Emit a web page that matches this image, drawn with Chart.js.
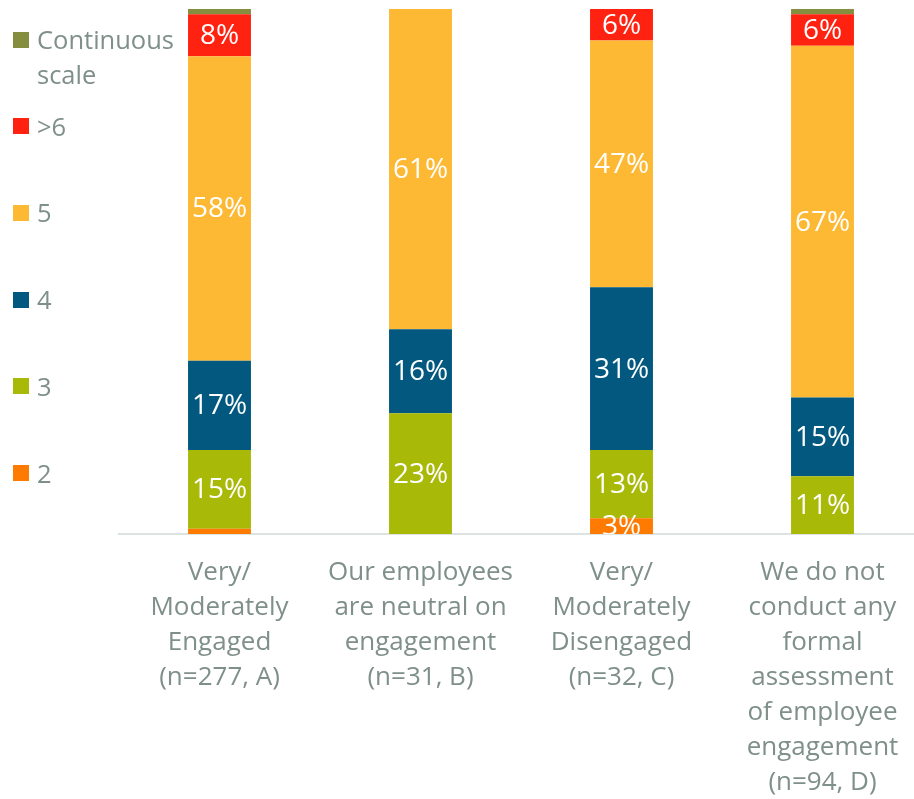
<!DOCTYPE html>
<html>
<head>
<meta charset="utf-8">
<script src="https://cdn.jsdelivr.net/npm/chart.js@4.4.1/dist/chart.umd.min.js"></script>
<style>
  html, body { margin: 0; padding: 0; background: #fff; overflow: hidden; }
  #wrap { position: relative; width: 923px; height: 821px; }
  #legend { position: absolute; left: 0; top: 0; font-family: "Open Sans"; font-size: 25.5px; color: #7f8f8a; }
  .item { position: absolute; left: 13px; width: 175px; line-height: 35px; }
  .item .box { position: absolute; left: 0; top: 9.5px; width: 16px; height: 16px; }
  .item .txt { display: block; margin-left: 24px; width: 150px; }
</style>
</head>
<body>
<div id="wrap">
  <canvas id="scale_chart"></canvas>
  <div id="legend"></div>
</div>
<script>
const categories = [
  ['Very/', 'Moderately', 'Engaged', '(n=277, A)'],
  ['Our employees', 'are neutral on', 'engagement', '(n=31, B)'],
  ['Very/', 'Moderately', 'Disengaged', '(n=32, C)'],
  ['We do not', 'conduct any', 'formal', 'assessment', 'of employee', 'engagement', '(n=94, D)']
];

// stacked from the bottom up
const seriesNames = ['2', '3', '4', '5', '>6', 'Continuous scale'];
const seriesColors = ['#ff7a00', '#a8b908', '#02587f', '#fdb933', '#ff2211', '#858e3e'];

const values2 = [1, 0, 3, 0];
const values3 = [15, 23, 13, 11];
const values4 = [17, 16, 31, 15];
const values5 = [58, 61, 47, 67];
const valuesOver6 = [8, 0, 6, 6];
const valuesContinuous = [1, 0, 0, 1];

const seriesValues = [values2, values3, values4, values5, valuesOver6, valuesContinuous];

const textGray = '#7f8f8a';
Chart.defaults.font.family = '"Open Sans"';

// legend on the left, top item is the last series
const legend = document.getElementById('legend');
seriesNames.slice().reverse().forEach((name, i) => {
  const color = seriesColors[seriesNames.length - 1 - i];
  const item = document.createElement('div');
  item.className = 'item';
  item.style.top = (22 + 86.7 * i) + 'px';
  item.innerHTML = '<span class="box" style="background:' + color + '"></span><span class="txt"></span>';
  item.querySelector('.txt').textContent = name;
  legend.appendChild(item);
});

// white percentages in the middle of each segment
const segmentLabels = {
  id: 'segmentLabels',
  afterDatasetsDraw(chart) {
    const ctx = chart.ctx;
    const area = chart.chartArea;
    ctx.save();
    ctx.beginPath();
    ctx.rect(area.left, area.top, area.right - area.left, area.bottom - area.top);
    ctx.clip();
    ctx.fillStyle = '#fff';
    ctx.font = '28px "Open Sans"';
    ctx.textAlign = 'center';
    ctx.textBaseline = 'middle';
    chart.data.datasets.forEach((ds, i) => {
      chart.getDatasetMeta(i).data.forEach((bar, j) => {
        const v = ds.data[j];
        if (v < 3) return;
        ctx.fillText(v + '%', bar.x, (bar.y + bar.base) / 2 + 1);
      });
    });
    ctx.restore();
  }
};

new Chart(document.getElementById('scale_chart'), {
  type: 'bar',
  data: {
    labels: categories,
    datasets: seriesNames.map((name, i) => ({
      label: name,
      data: seriesValues[i],
      backgroundColor: seriesColors[i],
      borderWidth: 0,
      barPercentage: 0.313,
      categoryPercentage: 1
    }))
  },
  options: {
    responsive: true,
    maintainAspectRatio: false,
    animation: false,
    layout: { padding: { left: 119, top: 9, right: 0, bottom: 0 } },
    plugins: {
      legend: { display: false },
      tooltip: { enabled: false }
    },
    scales: {
      x: {
        stacked: true,
        grid: { display: false, drawTicks: false },
        border: { display: true, color: '#dde2e2', width: 2 },
        ticks: {
          color: textGray,
          font: { size: 26, lineHeight: 35 / 26 },
          padding: 21,
          maxRotation: 0,
          autoSkip: false
        }
      },
      y: {
        stacked: true,
        display: false,
        min: 0,
        max: 100
      }
    }
  },
  plugins: [segmentLabels]
});
</script>
</body>
</html>
